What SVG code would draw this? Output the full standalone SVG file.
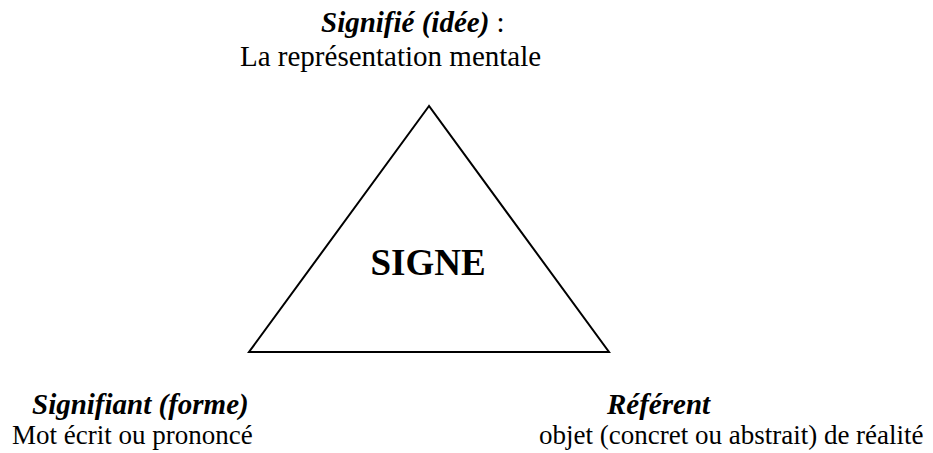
<svg xmlns="http://www.w3.org/2000/svg" width="933" height="453" viewBox="0 0 933 453">
<style>
text{font-family:"Liberation Serif","Times New Roman",serif;font-size:27px;fill:#000}
.bi{font-weight:bold;font-style:italic;font-size:29px}
.b{font-weight:bold}
</style>
<rect width="933" height="453" fill="#fff"/>
<g id="connectors"></g>
<g id="signe">
<polygon points="429,106 249,352 609,352" fill="#fff" stroke="#000" stroke-width="2"/>
<text x="428" y="275" text-anchor="middle" class="b" style="font-size:37px">SIGNE</text>
</g>
<g id="signifie">
<text x="321" y="32" style="font-size:29px"><tspan class="bi">Signifié (idée)</tspan> :</text>
<text x="240" y="66" style="font-size:29px">La représentation mentale</text>
</g>
<g id="signifiant">
<text x="32" y="414" class="bi">Signifiant (forme)</text>
<text x="12" y="444">Mot écrit ou prononcé</text>
</g>
<g id="referent">
<text x="607" y="414" class="bi">Référent</text>
<text x="539" y="444">objet (concret ou abstrait) de réalité</text>
</g>
</svg>
